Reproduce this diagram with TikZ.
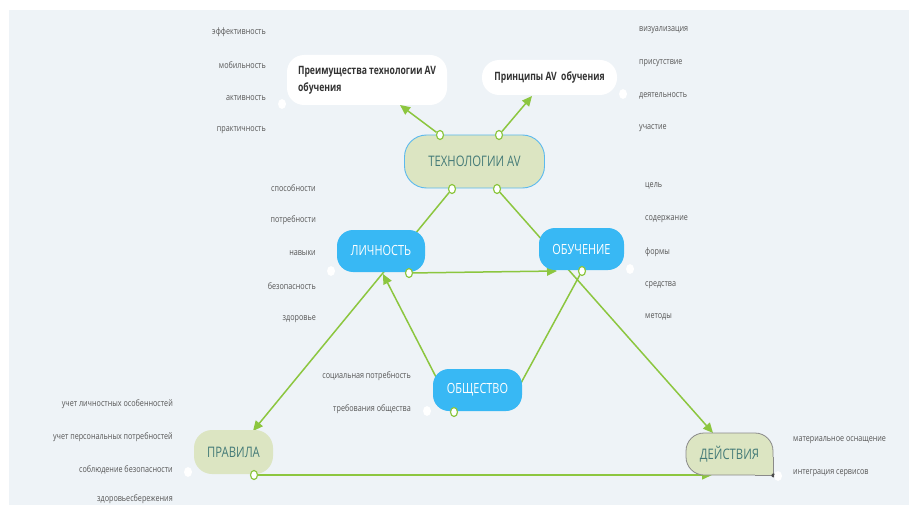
\documentclass[tikz,border=0pt]{standalone}
\usepackage{fontspec}
\setmainfont{Open Sans}
\newfontfamily\lblfont[FakeStretch=0.8]{Open Sans}
\newfontfamily\boxfont[FakeStretch=0.78]{Open Sans}
\newfontfamily\headfont[FakeStretch=0.75]{Open Sans}
\usetikzlibrary{arrows.meta,shapes.geometric}
\pgfdeclarelayer{back}
\pgfdeclarelayer{wires}
\pgfsetlayers{back,wires,main}

\definecolor{bgc}{HTML}{EEF3F7}
\definecolor{lnc}{HTML}{8CC63F}
\definecolor{bluebox}{HTML}{38B8F4}
\definecolor{greenbox}{HTML}{DCE5C2}
\definecolor{tealtxt}{HTML}{457B78}
\definecolor{lbltxt}{HTML}{555555}
\definecolor{techedge}{HTML}{5CB9EE}
\definecolor{headtxt}{HTML}{333333}
\definecolor{deistedge}{HTML}{8A8A8A}

\tikzset{
  wire/.style={draw=lnc, line width=1.5pt},
  arrowwire/.style={wire, -{Triangle[length=10pt,width=9pt]}},
  bluenode/.style={fill=bluebox, rounded corners=16pt, minimum width=#1, minimum height=42pt,
     text=white, font=\boxfont\fontsize{14}{16}\selectfont, inner sep=0pt},
  greennode/.style={fill=greenbox, rounded corners=18pt, minimum width=#1, minimum height=44pt,
     text=tealtxt, font=\boxfont\fontsize{14.5}{16}\selectfont, inner sep=0pt},
  whitenode/.style={fill=white, rounded corners=17pt, inner sep=0pt,
     text=headtxt, font=\headfont\bfseries\fontsize{11.5}{17}\selectfont},
  lbl/.style={text=lbltxt, font=\lblfont\fontsize{9}{10}\selectfont, inner sep=0pt, yshift=-2pt},
  lblL/.style={lbl, anchor=east},
  lblR/.style={lbl, anchor=west},
  hdot/.style={draw=lnc, fill=white, line width=1.2pt, ellipse, minimum width=7pt, minimum height=9pt, inner sep=0pt},
  wdot/.style={fill=white, ellipse, minimum width=8pt, minimum height=10pt, inner sep=0pt},
}

\begin{document}
\begin{tikzpicture}[x=1pt,y=-1pt]
\useasboundingbox (0,0) rectangle (909,505);
\begin{pgfonlayer}{back}
  \fill[white] (0,0) rectangle (909,505);
  \fill[bgc] (9,10) rectangle (909,505);
\end{pgfonlayer}

% central topic
\node[greennode=140pt, minimum height=53pt, rounded corners=22pt, draw=techedge, line width=0.9pt] (tech) at (474.5,161.5) {ТЕХНОЛОГИИ AV};

% top white boxes
\node[whitenode, minimum width=160pt, minimum height=50pt, align=left] (adv) at (367,80)
  {Преимущества технологии AV\\обучения};
\node[whitenode, minimum width=135pt, minimum height=35pt] (princ) at (549.5,77.5) {Принципы AV\ \ обучения};

% blue topics
\node[bluenode=88pt] (lich) at (381,251) {ЛИЧНОСТЬ};
\node[bluenode=85pt] (obuch) at (581.5,249) {ОБУЧЕНИЕ};
\node[bluenode=89pt] (obsh) at (477.5,390) {ОБЩЕСТВО};

% green topics
\node[greennode=79pt] (prav) at (233.5,452) {ПРАВИЛА};
\node[greennode=87pt, minimum height=42pt, draw=deistedge, line width=0.8pt] (deist) at (729.5,454) {ДЕЙСТВИЯ};
% square lower right corner of the selected topic
\fill[greenbox] ([xshift=-0.4pt,yshift=0.4pt]deist.south east) rectangle ++(-18,-18);
\draw[deistedge, line width=0.8pt] ([xshift=-18pt]deist.south east) -- (deist.south east) -- ([yshift=18pt]deist.south east);
\fill[black!70] (deist.south east) circle (2pt);

% connector start dots
\node[hdot] (tA) at (440,135) {};
\node[hdot] (tB) at (499,135) {};
\node[hdot] (tC) at (452,189) {};
\node[hdot] (tD) at (497,189) {};
\node[hdot] (lD) at (409,273) {};
\node[hdot] (oD) at (582,271) {};
\node[hdot] (sD) at (454,412) {};
\node[hdot] (pD) at (254,475) {};

% white collapse dots
\node[wdot] (w1) at (282,104) {};
\node[wdot] (w2) at (623,94) {};
\node[wdot] (w3) at (331,271) {};
\node[wdot] (w4) at (630,269) {};
\node[wdot] (w5) at (427,411) {};
\node[wdot] (w6) at (188,472) {};
\node[wdot] (w7) at (778,476) {};

% arrow targets on the box borders
\coordinate (advT) at (400,105);
\coordinate (princT) at (532,96);
\coordinate (pravT) at (253,431);
\coordinate (deistT) at (713,433);
\coordinate (lichT) at (383,274);
\coordinate (obuchT) at (557,271);
\coordinate (obshT) at (521,383);
\coordinate (deistL) at (712,475);

\begin{pgfonlayer}{wires}
  \draw[arrowwire] (tA) -- (advT);
  \draw[arrowwire] (tB) -- (princT);
  \draw[arrowwire] (tC) -- (pravT);
  \draw[arrowwire] (tD) -- (deistT);
  \draw[arrowwire] (sD) -- (lichT);
  \draw[arrowwire] (lD) -- (obuchT);
  \draw[wire] (oD) -- (obshT);
  \draw[arrowwire] (pD) -- (deistL);
\end{pgfonlayer}

% labels
\node[lblL] (a1) at (266,30) {эффективность};
\node[lblL] (a2) at (266,63) {мобильность};
\node[lblL] (a3) at (266,96) {активность};
\node[lblL] (a4) at (266,128) {практичность};

\node[lblR] (b1) at (639,28) {визуализация};
\node[lblR] (b2) at (639,61) {присутствие};
\node[lblR] (b3) at (639,94) {деятельность};
\node[lblR] (b4) at (639,126) {участие};

\node[lblL] (c1) at (316,186) {способности};
\node[lblL] (c2) at (316,218) {потребности};
\node[lblL] (c3) at (316,251) {навыки};
\node[lblL] (c4) at (316,284) {безопасность};
\node[lblL] (c5) at (316,317) {здоровье};

\node[lblR] (d1) at (645,184) {цель};
\node[lblR] (d2) at (645,217) {содержание};
\node[lblR] (d3) at (645,250) {формы};
\node[lblR] (d4) at (645,283) {средства};
\node[lblR] (d5) at (645,315) {методы};

\node[lblL] (e1) at (411,374) {социальная потребность};
\node[lblL] (e2) at (411,407) {требования общества};

\node[lblL] (f1) at (173,402) {учет личностных особенностей};
\node[lblL] (f2) at (173,435) {учет персональных потребностей};
\node[lblL] (f3) at (173,468) {соблюдение безопасности};
\node[lblL] (f4) at (173,497) {здоровьесбережения};

\node[lblR] (g1) at (793,438) {материальное оснащение};
\node[lblR] (g2) at (793,471) {интеграция сервисов};
\end{tikzpicture}
\end{document}
